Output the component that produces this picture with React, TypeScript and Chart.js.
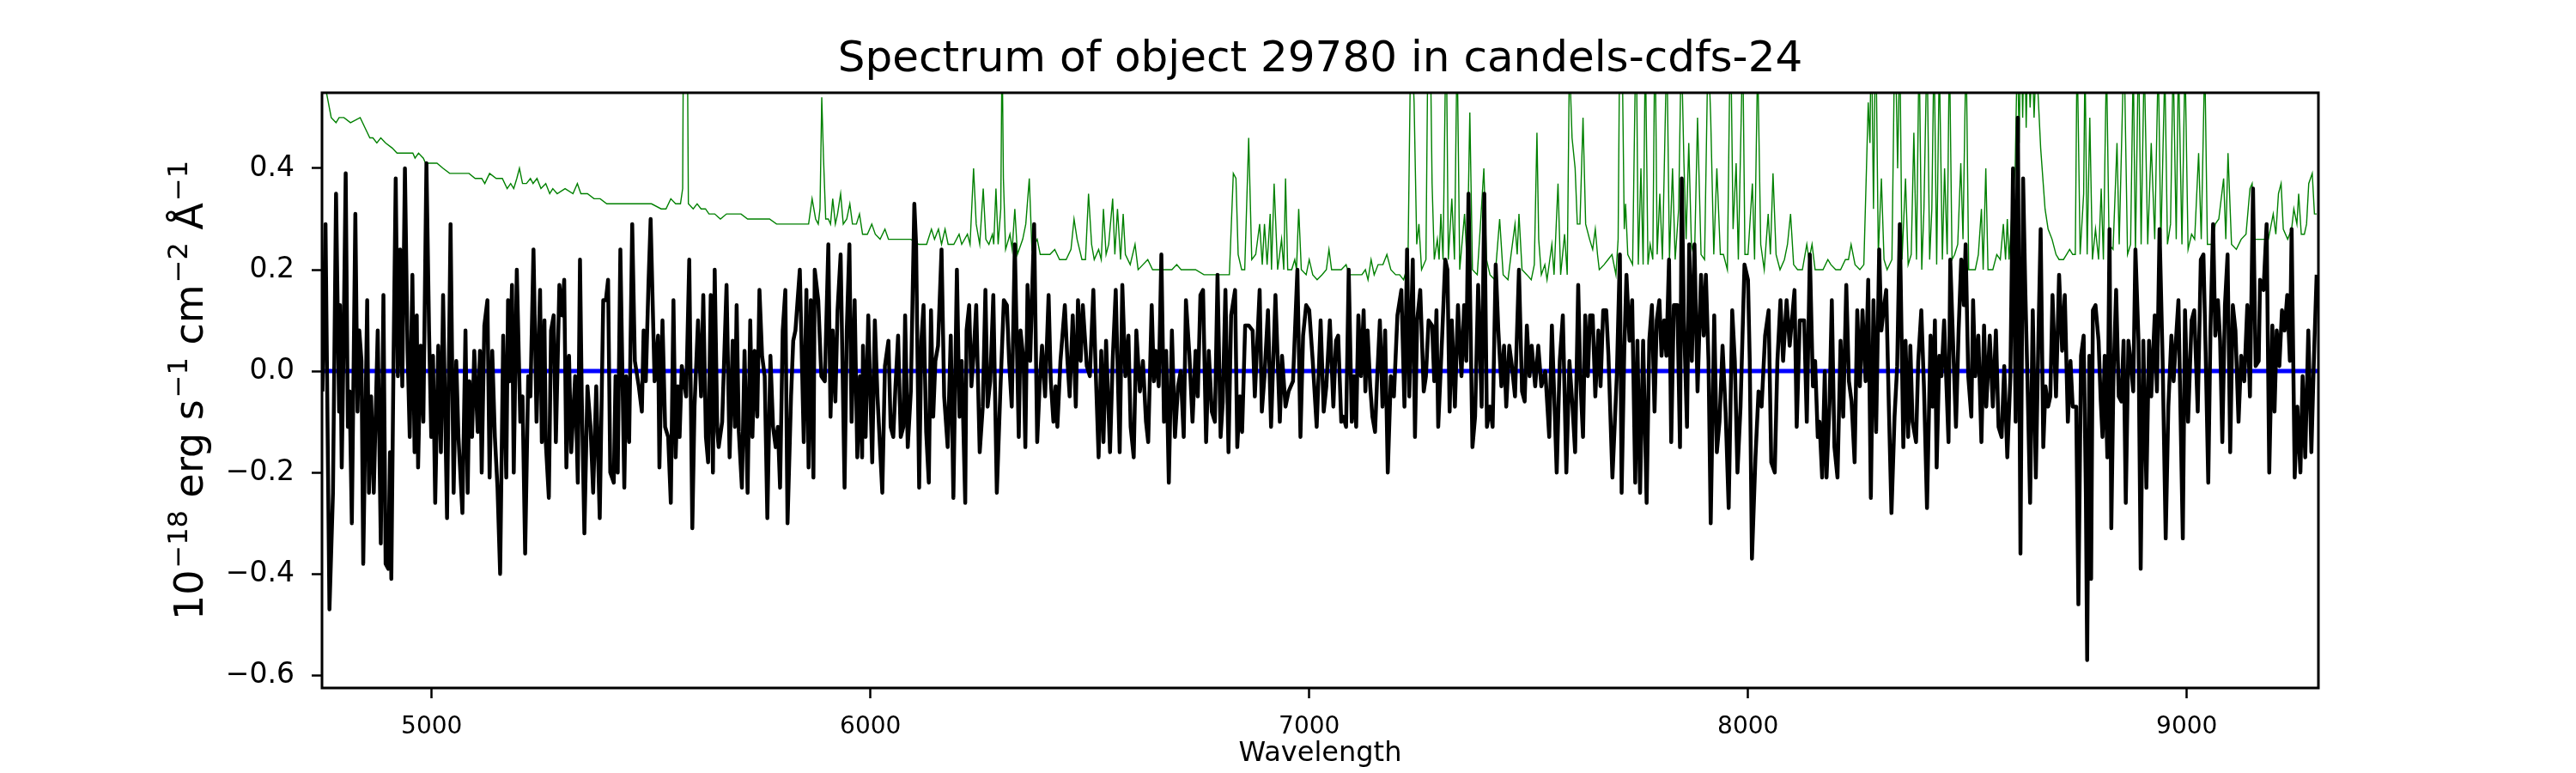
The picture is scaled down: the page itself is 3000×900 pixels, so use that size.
import { useEffect, useRef } from 'react';
import { Chart, registerables } from 'chart.js';

Chart.register(...registerables);

// observed flux (1e-18 erg/s/cm2/A), [wavelength, flux]
const objectFlux: [number, number][] = [
  [4751,-0.04],[4758,0.29],[4767,-0.47],[4775,-0.24],[4782,0.35],[4789,-0.08],[4791,0.13],[4795,-0.19],[4799,0.04],[4804,0.39],
  [4809,-0.11],[4813,-0.04],[4818,-0.30],[4826,0.31],[4831,-0.08],[4835,0.08],[4840,0.02],[4844,-0.38],[4853,0.14],[4857,-0.24],
  [4862,-0.05],[4868,-0.24],[4877,0.08],[4884,-0.34],[4890,0.15],[4895,-0.38],[4901,-0.39],[4905,-0.16],[4908,-0.41],[4913,0.02],
  [4918,0.38],[4923,-0.01],[4928,0.24],[4933,-0.03],[4939,0.40],[4945,0.04],[4950,-0.13],[4956,0.19],[4961,-0.16],[4966,0.11],
  [4969,-0.19],[4975,0.05],[4981,-0.10],[4988,0.41],[4994,0.08],[4999,-0.13],[5003,0.03],[5008,-0.26],[5015,0.05],[5021,-0.16],
  [5026,0.15],[5035,-0.29],[5043,0.29],[5050,-0.24],[5056,0.02],[5061,-0.13],[5070,-0.28],[5077,0.08],[5082,-0.24],[5086,-0.02],
  [5092,-0.13],[5097,0.04],[5105,-0.12],[5110,0.04],[5114,-0.20],[5120,0.09],[5127,0.14],[5132,-0.21],[5138,0.04],[5144,-0.13],
  [5150,-0.23],[5156,-0.40],[5163,0.07],[5170,-0.21],[5174,0.14],[5178,-0.02],[5183,0.17],[5187,-0.20],[5194,0.20],[5202,-0.10],
  [5207,-0.05],[5213,-0.36],[5220,-0.01],[5225,-0.05],[5232,0.24],[5239,-0.10],[5247,0.16],[5251,-0.14],[5257,0.10],[5260,-0.14],
  [5267,-0.25],[5272,0.08],[5278,0.11],[5283,-0.14],[5291,0.17],[5297,0.11],[5302,0.18],[5307,-0.19],[5313,0.03],[5318,-0.16],
  [5327,-0.01],[5333,-0.22],[5338,0.22],[5342,-0.05],[5348,-0.32],[5355,-0.03],[5362,-0.11],[5368,-0.24],[5375,-0.03],[5383,-0.29],
  [5391,0.14],[5397,0.14],[5402,0.18],[5407,-0.20],[5415,-0.22],[5419,-0.01],[5424,-0.20],[5430,0.24],[5439,-0.23],[5443,-0.01],
  [5450,-0.14],[5457,0.29],[5463,0.02],[5472,-0.03],[5479,-0.08],[5483,0.08],[5488,-0.02],[5494,0.17],[5499,0.30],[5508,-0.02],
  [5516,0.07],[5519,-0.19],[5526,0.10],[5532,-0.11],[5539,-0.13],[5545,-0.26],[5551,0.14],[5556,-0.17],[5561,-0.03],[5565,-0.13],
  [5570,0.01],[5580,-0.05],[5587,0.22],[5594,-0.31],[5599,-0.07],[5607,0.10],[5614,-0.05],[5619,0.15],[5625,-0.13],[5630,-0.18],
  [5636,0.15],[5641,-0.20],[5645,0.20],[5651,-0.12],[5654,-0.15],[5662,-0.10],[5672,0.17],[5679,-0.17],[5686,0.06],[5691,-0.11],
  [5695,0.13],[5700,-0.12],[5707,-0.23],[5713,0.04],[5720,-0.24],[5726,0.10],[5731,-0.13],[5736,0.04],[5742,-0.09],[5747,0.16],
  [5753,0.03],[5759,-0.01],[5765,-0.29],[5772,0.03],[5778,-0.11],[5784,-0.15],[5789,-0.11],[5794,-0.23],[5800,0.08],[5806,0.16],
  [5811,-0.30],[5819,-0.05],[5824,0.06],[5829,0.08],[5839,0.20],[5848,-0.14],[5854,0.16],[5859,-0.19],[5864,0.14],[5870,-0.21],
  [5873,0.20],[5881,0.14],[5888,-0.01],[5896,-0.02],[5904,0.25],[5909,-0.09],[5914,0.08],[5920,-0.06],[5925,0.12],[5932,0.23],
  [5941,-0.23],[5946,0.08],[5952,0.25],[5957,-0.10],[5964,0.14],[5970,-0.17],[5976,-0.01],[5981,-0.17],[5983,0.05],[5989,-0.13],
  [5995,0.11],[6004,-0.18],[6010,0.10],[6016,-0.05],[6027,-0.24],[6033,0.01],[6041,0.06],[6046,-0.11],[6052,-0.13],[6057,-0.03],
  [6063,0.07],[6069,-0.13],[6075,-0.11],[6079,0.11],[6085,-0.15],[6092,-0.04],[6100,0.33],[6104,0.25],[6111,-0.23],[6116,0.06],
  [6121,0.13],[6127,-0.12],[6133,-0.22],[6138,0.12],[6143,-0.09],[6148,0.02],[6154,0.05],[6162,0.24],[6168,-0.05],[6176,-0.15],
  [6183,0.07],[6189,-0.25],[6197,0.20],[6203,-0.09],[6208,0.02],[6216,-0.26],[6219,0.08],[6225,0.13],[6230,-0.03],[6235,0.03],
  [6241,0.13],[6249,-0.16],[6256,-0.07],[6262,0.16],[6267,-0.07],[6273,-0.02],[6280,0.15],[6288,-0.24],[6296,-0.04],[6304,0.14],
  [6311,0.13],[6316,0.02],[6322,-0.07],[6329,0.25],[6338,-0.13],[6342,0.08],[6349,0.02],[6353,-0.15],[6358,0.17],[6364,0.02],
  [6373,0.29],[6380,-0.14],[6386,-0.02],[6391,0.05],[6398,-0.05],[6406,0.15],[6411,-0.02],[6417,-0.10],[6422,-0.03],[6426,-0.11],
  [6433,0.02],[6443,0.13],[6449,0.02],[6454,-0.05],[6461,0.11],[6468,-0.07],[6473,0.14],[6479,0.02],[6484,0.13],[6493,0.01],
  [6500,-0.01],[6508,0.16],[6513,0.01],[6520,-0.17],[6526,0.04],[6531,-0.14],[6537,0.06],[6546,-0.16],[6552,0.02],[6559,0.16],
  [6568,-0.16],[6574,0.17],[6581,-0.01],[6588,0.07],[6593,-0.11],[6600,-0.17],[6606,0.08],[6614,-0.04],[6621,0.02],[6628,-0.10],
  [6633,-0.14],[6641,0.13],[6646,-0.02],[6650,0.04],[6657,-0.03],[6663,0.23],[6669,-0.10],[6674,0.04],[6680,-0.22],[6687,0.08],
  [6694,-0.13],[6701,-0.03],[6707,0.00],[6714,-0.13],[6719,0.14],[6727,0.03],[6734,-0.10],[6741,0.04],[6746,-0.05],[6752,0.15],
  [6758,0.16],[6765,-0.14],[6771,0.04],[6778,-0.08],[6785,-0.10],[6791,0.19],[6798,-0.13],[6803,-0.06],[6809,0.16],[6816,-0.16],
  [6822,0.11],[6831,0.16],[6836,-0.15],[6842,-0.05],[6847,-0.12],[6854,0.09],[6862,0.09],[6871,0.08],[6876,-0.05],[6887,0.16],
  [6892,-0.08],[6898,-0.01],[6906,0.12],[6913,-0.11],[6923,0.15],[6933,-0.10],[6938,0.03],[6946,-0.07],[6953,-0.04],[6963,-0.02],
  [6973,0.20],[6980,-0.13],[6986,0.07],[6993,0.13],[7000,0.12],[7008,0.02],[7017,-0.11],[7026,0.10],[7033,-0.08],[7039,-0.03],
  [7047,0.10],[7055,-0.07],[7061,0.06],[7066,0.07],[7073,-0.10],[7078,-0.09],[7084,-0.11],[7090,0.20],[7097,-0.10],[7102,-0.01],
  [7107,-0.11],[7112,0.11],[7118,-0.01],[7124,0.12],[7128,-0.04],[7133,0.08],[7139,-0.03],[7144,-0.09],[7150,-0.12],[7155,-0.01],
  [7161,0.10],[7167,-0.07],[7173,0.08],[7179,-0.20],[7186,-0.01],[7193,-0.05],[7201,0.11],[7210,0.16],[7217,-0.07],[7223,0.24],
  [7228,-0.05],[7236,0.22],[7241,-0.13],[7246,0.10],[7253,0.16],[7261,-0.04],[7266,-0.01],[7272,0.10],[7280,0.09],[7285,-0.02],
  [7290,0.12],[7294,-0.11],[7303,0.07],[7310,0.22],[7315,0.20],[7320,-0.08],[7325,0.10],[7332,-0.07],[7339,0.13],[7347,-0.01],
  [7353,0.13],[7358,0.02],[7363,0.35],[7372,-0.15],[7378,-0.09],[7385,0.17],[7393,-0.07],[7399,0.35],[7405,-0.11],[7412,-0.07],
  [7418,-0.11],[7425,0.21],[7431,0.08],[7438,-0.03],[7444,0.05],[7449,-0.07],[7456,0.05],[7462,0.01],[7469,-0.05],[7478,0.20],
  [7485,-0.04],[7491,-0.06],[7496,0.09],[7502,-0.01],[7507,0.05],[7515,-0.03],[7522,0.05],[7529,-0.03],[7538,0.00],[7547,-0.13],
  [7553,0.09],[7558,-0.04],[7564,-0.20],[7571,0.02],[7578,0.11],[7586,-0.20],[7593,0.02],[7600,-0.07],[7606,-0.16],[7613,0.17],
  [7618,-0.02],[7624,-0.13],[7629,0.11],[7635,-0.01],[7640,0.11],[7646,0.11],[7652,-0.05],[7659,0.08],[7664,-0.03],[7670,0.12],
  [7677,0.12],[7682,0.03],[7691,-0.21],[7701,-0.01],[7708,0.23],[7712,-0.24],[7718,0.04],[7723,0.19],[7730,0.06],[7736,0.14],
  [7743,-0.22],[7748,0.06],[7754,-0.24],[7761,0.06],[7769,-0.26],[7775,0.06],[7781,0.13],[7787,-0.08],[7792,0.10],[7798,0.14],
  [7803,0.03],[7809,0.10],[7814,0.03],[7820,0.22],[7825,-0.14],[7831,0.13],[7839,0.13],[7845,-0.15],[7849,0.38],[7854,0.10],
  [7861,-0.11],[7866,0.25],[7872,0.02],[7878,0.25],[7885,-0.04],[7893,0.19],[7899,0.07],[7904,0.19],[7910,0.02],[7915,-0.30],
  [7923,0.11],[7929,-0.16],[7935,-0.10],[7942,0.05],[7949,-0.08],[7956,-0.27],[7964,0.12],[7970,0.02],[7976,-0.20],[7983,-0.07],
  [7992,0.21],[8000,0.18],[8004,0.02],[8009,-0.37],[8017,-0.17],[8024,-0.04],[8031,-0.07],[8039,0.07],[8047,0.12],[8053,-0.18],
  [8061,-0.20],[8067,0.02],[8074,0.14],[8080,0.02],[8088,0.14],[8095,0.05],[8106,0.16],[8111,-0.11],[8118,0.10],[8128,0.10],
  [8134,-0.10],[8141,0.23],[8148,-0.03],[8153,0.02],[8159,-0.13],[8163,-0.10],[8169,-0.21],[8175,0.00],[8179,-0.21],[8186,-0.06],
  [8191,0.14],[8197,-0.15],[8204,-0.21],[8211,0.06],[8217,-0.09],[8224,0.17],[8230,-0.02],[8236,-0.06],[8243,-0.18],[8249,0.12],
  [8255,-0.03],[8261,0.12],[8268,-0.02],[8274,0.18],[8280,-0.25],[8286,0.14],[8292,-0.12],[8299,0.24],[8304,0.08],[8309,0.12],
  [8315,0.16],[8321,-0.07],[8327,-0.28],[8334,-0.09],[8340,0.01],[8346,0.29],[8354,-0.15],[8359,0.06],[8365,-0.13],[8370,0.05],
  [8375,-0.10],[8383,-0.14],[8388,0.02],[8395,0.12],[8401,-0.03],[8408,-0.27],[8416,0.07],[8421,-0.07],[8426,0.10],[8430,-0.19],
  [8436,0.03],[8441,-0.01],[8447,0.10],[8457,-0.14],[8461,0.22],[8468,0.04],[8474,-0.11],[8480,0.08],[8486,0.22],[8492,0.13],
  [8496,0.25],[8502,-0.01],[8509,-0.09],[8513,0.14],[8518,-0.01],[8525,0.07],[8532,-0.14],[8538,0.09],[8543,-0.07],[8551,0.07],
  [8558,-0.07],[8565,0.08],[8571,-0.11],[8578,-0.13],[8584,0.01],[8591,-0.17],[8598,-0.01],[8604,0.40],[8610,-0.10],[8615,0.50],
  [8621,-0.36],[8627,0.38],[8632,0.16],[8637,-0.02],[8643,-0.26],[8649,0.12],[8656,-0.21],[8662,0.07],[8667,0.28],[8673,-0.15],
  [8678,-0.03],[8684,-0.07],[8689,-0.05],[8694,0.15],[8702,-0.05],[8709,0.19],[8716,0.04],[8722,0.15],[8729,-0.10],[8735,0.02],
  [8740,-0.07],[8748,-0.07],[8753,-0.46],[8759,0.03],[8765,0.07],[8770,-0.24],[8773,-0.57],[8778,0.03],[8782,-0.41],[8786,0.12],
  [8792,0.13],[8799,0.06],[8804,-0.06],[8808,-0.13],[8813,0.03],[8819,-0.17],[8824,0.28],[8828,-0.31],[8833,-0.01],[8839,0.16],
  [8845,-0.05],[8851,-0.06],[8856,0.06],[8861,-0.26],[8867,0.06],[8872,0.02],[8878,-0.04],[8883,0.24],[8890,0.06],[8895,-0.39],
  [8901,0.06],[8908,-0.23],[8914,0.06],[8919,-0.05],[8927,0.11],[8932,-0.04],[8938,0.28],[8945,0.02],[8952,-0.33],[8958,-0.07],
  [8965,0.07],[8970,-0.02],[8976,0.07],[8981,0.14],[8991,-0.33],[8996,0.12],[9003,-0.10],[9011,0.10],[9017,0.12],[9025,-0.08],
  [9032,0.22],[9038,0.23],[9043,0.04],[9049,-0.22],[9054,0.08],[9060,0.29],[9065,0.07],[9071,0.14],[9076,0.06],[9081,-0.14],
  [9087,0.13],[9093,0.23],[9099,-0.16],[9105,0.13],[9111,0.08],[9118,-0.10],[9124,0.03],[9131,-0.02],[9138,0.13],[9144,-0.05],
  [9151,0.36],[9157,0.01],[9164,0.02],[9167,0.18],[9175,0.16],[9182,0.29],[9188,-0.20],[9195,0.09],[9200,-0.08],[9205,0.08],
  [9211,0.01],[9217,0.12],[9223,0.08],[9229,0.15],[9235,0.02],[9239,0.28],[9246,-0.21],[9252,-0.07],[9259,-0.20],[9264,-0.01],
  [9270,-0.17],[9277,0.08],[9284,-0.16],[9290,0.03],[9296,0.19],
];

// sky / noise spectrum, same units
const skyNoise: [number, number][] = [
  [4749,0.62],[4760,0.55],[4771,0.50],[4782,0.49],[4789,0.50],[4800,0.50],[4815,0.49],[4837,0.50],[4848,0.48],[4859,0.46],
  [4866,0.46],[4875,0.45],[4884,0.46],[4895,0.45],[4910,0.44],[4921,0.43],[4932,0.43],[4946,0.43],[4957,0.43],[4962,0.42],
  [4970,0.43],[4981,0.42],[4986,0.41],[4997,0.41],[5012,0.41],[5026,0.40],[5041,0.39],[5056,0.39],[5070,0.39],[5085,0.39],
  [5099,0.38],[5114,0.38],[5121,0.37],[5132,0.39],[5147,0.38],[5161,0.38],[5172,0.36],[5180,0.37],[5187,0.36],[5194,0.38],
  [5200,0.40],[5207,0.37],[5216,0.37],[5225,0.38],[5231,0.37],[5240,0.38],[5249,0.36],[5260,0.37],[5269,0.35],[5276,0.36],
  [5286,0.35],[5304,0.36],[5322,0.35],[5332,0.37],[5340,0.35],[5355,0.35],[5370,0.34],[5384,0.34],[5399,0.33],[5410,0.33],
  [5424,0.33],[5439,0.33],[5453,0.33],[5464,0.33],[5479,0.33],[5501,0.33],[5523,0.32],[5534,0.32],[5545,0.34],[5556,0.33],
  [5567,0.33],[5572,0.36],[5575,0.90],[5581,0.90],[5585,0.33],[5596,0.32],[5605,0.33],[5614,0.32],[5624,0.32],[5632,0.31],
  [5645,0.31],[5658,0.30],[5672,0.31],[5691,0.31],[5705,0.31],[5720,0.30],[5735,0.30],[5756,0.30],[5770,0.30],[5786,0.29],
  [5808,0.29],[5829,0.29],[5859,0.29],[5867,0.34],[5875,0.30],[5881,0.29],[5885,0.32],[5889,0.54],[5893,0.42],[5898,0.30],
  [5904,0.30],[5909,0.29],[5914,0.34],[5920,0.29],[5925,0.31],[5932,0.35],[5938,0.29],[5946,0.30],[5953,0.33],[5959,0.29],
  [5968,0.29],[5975,0.31],[5982,0.27],[5993,0.27],[6003,0.29],[6011,0.27],[6022,0.26],[6033,0.28],[6041,0.26],[6059,0.26],
  [6077,0.26],[6092,0.26],[6110,0.25],[6128,0.25],[6139,0.28],[6146,0.26],[6155,0.28],[6162,0.25],[6170,0.28],[6177,0.25],
  [6190,0.25],[6202,0.27],[6208,0.25],[6221,0.27],[6227,0.25],[6235,0.40],[6241,0.29],[6249,0.25],[6257,0.36],[6263,0.26],
  [6270,0.25],[6278,0.27],[6281,0.25],[6286,0.36],[6291,0.25],[6297,0.32],[6300,0.65],[6303,0.38],[6308,0.24],[6318,0.27],
  [6323,0.24],[6329,0.32],[6335,0.23],[6347,0.26],[6354,0.29],[6362,0.38],[6368,0.24],[6380,0.26],[6387,0.23],[6402,0.23],
  [6409,0.23],[6420,0.24],[6431,0.22],[6446,0.22],[6457,0.24],[6464,0.30],[6471,0.26],[6482,0.22],[6490,0.22],[6497,0.35],
  [6504,0.25],[6510,0.22],[6520,0.24],[6526,0.22],[6531,0.32],[6537,0.23],[6543,0.25],[6552,0.34],[6557,0.23],[6563,0.32],
  [6570,0.22],[6576,0.31],[6581,0.23],[6592,0.21],[6603,0.25],[6610,0.20],[6621,0.21],[6632,0.22],[6643,0.20],[6657,0.20],
  [6672,0.20],[6687,0.20],[6698,0.21],[6708,0.20],[6719,0.20],[6730,0.20],[6741,0.20],[6760,0.19],[6782,0.19],[6803,0.19],
  [6818,0.19],[6827,0.39],[6833,0.38],[6838,0.23],[6846,0.20],[6853,0.20],[6862,0.46],[6869,0.22],[6878,0.23],[6887,0.29],
  [6893,0.21],[6898,0.29],[6904,0.21],[6911,0.31],[6914,0.20],[6920,0.37],[6928,0.20],[6937,0.26],[6942,0.20],[6946,0.38],
  [6951,0.20],[6960,0.20],[6967,0.22],[6971,0.20],[6976,0.32],[6982,0.20],[6993,0.19],[7000,0.22],[7008,0.19],[7018,0.18],
  [7029,0.19],[7039,0.20],[7045,0.24],[7051,0.20],[7062,0.20],[7073,0.20],[7084,0.21],[7091,0.19],[7106,0.19],[7120,0.19],
  [7128,0.20],[7134,0.18],[7141,0.22],[7148,0.19],[7157,0.21],[7168,0.21],[7177,0.23],[7186,0.20],[7197,0.19],[7206,0.19],
  [7215,0.18],[7225,0.21],[7232,0.70],[7239,0.53],[7245,0.25],[7250,0.29],[7256,0.20],[7266,0.22],[7271,0.70],[7276,0.65],
  [7280,0.37],[7285,0.22],[7292,0.26],[7296,0.22],[7300,0.31],[7305,0.22],[7312,0.70],[7317,0.22],[7325,0.34],[7331,0.22],
  [7337,0.65],[7343,0.20],[7354,0.31],[7360,0.21],[7366,0.51],[7372,0.20],[7383,0.19],[7391,0.30],[7398,0.40],[7404,0.22],
  [7412,0.19],[7423,0.18],[7434,0.30],[7442,0.19],[7453,0.18],[7460,0.23],[7469,0.29],[7474,0.23],[7478,0.31],[7485,0.20],
  [7496,0.19],[7506,0.18],[7513,0.21],[7519,0.47],[7523,0.26],[7529,0.19],[7537,0.21],[7542,0.18],[7553,0.25],[7558,0.19],
  [7567,0.37],[7573,0.19],[7582,0.27],[7588,0.19],[7593,0.62],[7599,0.46],[7606,0.40],[7611,0.29],[7617,0.29],[7624,0.50],
  [7630,0.29],[7639,0.26],[7646,0.24],[7652,0.28],[7657,0.23],[7661,0.20],[7672,0.21],[7681,0.22],[7690,0.23],[7699,0.19],
  [7704,0.26],[7708,0.70],[7713,0.65],[7718,0.28],[7721,0.33],[7726,0.23],[7737,0.21],[7745,0.70],[7750,0.21],[7756,0.40],
  [7761,0.21],[7766,0.65],[7772,0.21],[7777,0.25],[7783,0.22],[7788,0.70],[7793,0.23],[7799,0.35],[7805,0.22],[7815,0.65],
  [7821,0.22],[7828,0.40],[7834,0.22],[7842,0.32],[7848,0.65],[7854,0.41],[7859,0.26],[7865,0.45],[7871,0.25],[7878,0.22],
  [7885,0.50],[7893,0.23],[7901,0.22],[7909,0.65],[7915,0.50],[7922,0.23],[7929,0.40],[7937,0.23],[7944,0.23],[7953,0.20],
  [7960,0.70],[7966,0.28],[7973,0.41],[7978,0.22],[7988,0.65],[7993,0.23],[8000,0.23],[8010,0.37],[8015,0.22],[8022,0.62],
  [8029,0.25],[8037,0.20],[8046,0.31],[8051,0.23],[8057,0.39],[8064,0.23],[8073,0.20],[8083,0.22],[8090,0.25],[8097,0.31],
  [8104,0.21],[8113,0.20],[8124,0.20],[8134,0.25],[8139,0.22],[8146,0.25],[8153,0.20],[8160,0.20],[8171,0.20],[8182,0.22],
  [8189,0.21],[8200,0.20],[8211,0.20],[8222,0.22],[8229,0.22],[8235,0.25],[8244,0.21],[8255,0.20],[8264,0.21],[8270,0.40],
  [8274,0.53],[8278,0.45],[8281,0.70],[8286,0.32],[8291,0.70],[8297,0.23],[8304,0.38],[8310,0.22],[8317,0.20],[8328,0.22],
  [8335,0.70],[8341,0.40],[8346,0.65],[8351,0.22],[8359,0.38],[8365,0.21],[8372,0.23],[8378,0.47],[8384,0.22],[8390,0.65],
  [8396,0.20],[8401,0.32],[8408,0.65],[8414,0.22],[8419,0.32],[8424,0.65],[8430,0.21],[8436,0.62],[8443,0.22],[8448,0.40],
  [8454,0.23],[8459,0.65],[8465,0.22],[8471,0.23],[8478,0.25],[8485,0.41],[8490,0.26],[8497,0.65],[8503,0.20],[8512,0.20],
  [8518,0.20],[8525,0.23],[8532,0.32],[8536,0.20],[8542,0.40],[8547,0.20],[8558,0.20],[8567,0.23],[8575,0.22],[8582,0.29],
  [8587,0.22],[8591,0.30],[8595,0.22],[8602,0.32],[8609,0.40],[8614,0.65],[8618,0.45],[8622,0.70],[8626,0.50],[8630,0.70],
  [8634,0.48],[8638,0.66],[8643,0.52],[8648,0.62],[8652,0.50],[8657,0.62],[8667,0.44],[8677,0.32],[8684,0.28],[8693,0.26],
  [8702,0.23],[8709,0.22],[8719,0.22],[8726,0.23],[8733,0.24],[8740,0.23],[8746,0.23],[8750,0.65],[8757,0.23],[8765,0.35],
  [8768,0.62],[8773,0.23],[8779,0.50],[8785,0.22],[8792,0.28],[8799,0.22],[8805,0.36],[8810,0.22],[8817,0.62],[8823,0.25],
  [8832,0.24],[8841,0.45],[8846,0.25],[8857,0.65],[8865,0.23],[8872,0.25],[8878,0.62],[8883,0.23],[8890,0.65],[8896,0.25],
  [8903,0.62],[8911,0.25],[8919,0.45],[8927,0.26],[8935,0.62],[8941,0.25],[8950,0.60],[8956,0.25],[8963,0.29],[8969,0.62],
  [8976,0.26],[8981,0.62],[8989,0.25],[8996,0.62],[9003,0.24],[9011,0.27],[9018,0.26],[9027,0.43],[9033,0.26],[9041,0.62],
  [9047,0.25],[9058,0.25],[9065,0.29],[9073,0.30],[9084,0.38],[9089,0.26],[9094,0.43],[9102,0.25],[9113,0.24],[9124,0.26],
  [9135,0.27],[9144,0.36],[9149,0.37],[9154,0.26],[9164,0.26],[9175,0.26],[9186,0.26],[9197,0.31],[9203,0.27],[9209,0.35],
  [9215,0.37],[9220,0.28],[9230,0.26],[9239,0.28],[9244,0.32],[9251,0.29],[9255,0.35],[9261,0.27],[9268,0.27],[9273,0.29],
  [9278,0.37],[9286,0.39],[9291,0.31],[9296,0.31],
];

// fitted model (flat zero)
const modelFlux: [number, number][] = [[4750, 0], [9300, 0]];

const xRange = [4750, 9300];
const yRange = [-0.625, 0.549];
const xTicks = [5000, 6000, 7000, 8000, 9000];
const yTicks = [-0.6, -0.4, -0.2, 0.0, 0.2, 0.4];

const title = 'Spectrum of object 29780 in candels-cdfs-24';
const xLabel = 'Wavelength';
// [text, is superscript]
const yLabel: [string, boolean][] = [
  ['10', false], ['\u221218', true], [' erg s', false], ['\u22121', true],
  [' cm', false], ['\u22122', true], [' \u00c5', false], ['\u22121', true],
];

const FONT = '"DejaVu Sans", sans-serif';

const toPoints = (pts: [number, number][]) => pts.map(([x, y]) => ({ x, y }));

const fmtY = (v: number) => {
  const s = Math.abs(v) < 1e-9 ? '0.0' : v.toFixed(1);
  return s.replace('-', '\u2212');
};

const mplText = {
  id: 'mplText',
  afterDatasetsDraw(chart: any) {
    const { ctx, chartArea: a } = chart;
    ctx.save();
    ctx.strokeStyle = '#000';
    ctx.lineWidth = 3;
    ctx.strokeRect(a.left, a.top, a.right - a.left, a.bottom - a.top);
    ctx.restore();
  },
  afterDraw(chart: any) {
    const { ctx, chartArea: a } = chart;
    const cx = (a.left + a.right) / 2;
    ctx.save();
    ctx.fillStyle = '#000';
    ctx.textBaseline = 'alphabetic';
    ctx.textAlign = 'center';
    ctx.font = `50px ${FONT}`;
    ctx.fillText(title, cx, 83);
    ctx.font = `32px ${FONT}`;
    ctx.fillText(xLabel, cx, 886);

    // y label, mathtext-like superscripts
    const base = 46;
    const sup = 32;
    const rise = 18;
    ctx.textAlign = 'left';
    const widths = yLabel.map(([t, s]) => {
      ctx.font = `${s ? sup : base}px ${FONT}`;
      return ctx.measureText(t).width + (s ? 2 : 0);
    });
    const total = widths.reduce((p, w) => p + w, 0);
    ctx.translate(236, (a.top + a.bottom) / 2);
    ctx.rotate(-Math.PI / 2);
    let x = -total / 2;
    yLabel.forEach(([t, s], i) => {
      ctx.font = `${s ? sup : base}px ${FONT}`;
      ctx.fillText(t, x + (s ? 2 : 0), s ? -rise : 0);
      x += widths[i];
    });
    ctx.restore();
  },
};

const App = () => {
  const ref = useRef<HTMLCanvasElement>(null);
  const chart = useRef<Chart>();

  useEffect(() => {
    if (!ref.current) return;
    chart.current = new Chart(ref.current, {
      type: 'line',
      data: {
        datasets: [
          {
            data: toPoints(objectFlux),
            borderColor: '#000000',
            borderWidth: 4.5,
            pointRadius: 0,
            tension: 0,
            borderJoinStyle: 'round',
            order: 0,
            clip: 0,
          },
          {
            data: toPoints(modelFlux),
            borderColor: '#0000ff',
            borderWidth: 5,
            pointRadius: 0,
            order: 1,
            clip: 0,
          },
          {
            data: toPoints(skyNoise),
            borderColor: '#008000',
            borderWidth: 1.4,
            pointRadius: 0,
            tension: 0,
            order: 2,
            clip: 0,
          },
        ],
      },
      options: {
        animation: false,
        responsive: false,
        devicePixelRatio: 1,
        events: [],
        layout: { padding: { left: 0, right: 300, top: 108, bottom: 0 } },
        plugins: {
          legend: { display: false },
          tooltip: { enabled: false },
          title: { display: false },
        },
        scales: {
          x: {
            type: 'linear',
            min: xRange[0],
            max: xRange[1],
            afterFit: (s: any) => { s.height = 99; },
            afterBuildTicks: (s: any) => { s.ticks = xTicks.map((v) => ({ value: v })); },
            grid: { display: true, drawOnChartArea: false, drawTicks: true, tickLength: 12, tickWidth: 2.5, tickColor: '#000' },
            border: { display: false },
            ticks: {
              color: '#000',
              font: { family: 'DejaVu Sans', size: 28 },
              padding: 17,
              maxRotation: 0,
              autoSkip: false,
              callback: (v: any) => String(v),
            },
          },
          y: {
            type: 'linear',
            min: yRange[0],
            max: yRange[1],
            afterFit: (s: any) => { s.width = 375; },
            afterBuildTicks: (s: any) => { s.ticks = yTicks.map((v) => ({ value: v })); },
            grid: { display: true, drawOnChartArea: false, drawTicks: true, tickLength: 12, tickWidth: 2.5, tickColor: '#000' },
            border: { display: false },
            ticks: {
              color: '#000',
              font: { family: 'DejaVu Sans', size: 33 },
              padding: 20,
              autoSkip: false,
              callback: (v: any) => fmtY(Number(v)),
            },
          },
        },
      },
      plugins: [mplText],
    });

    return () => {
      if (chart.current) chart.current.destroy();
    };
  }, []);

  return (
    <div style={{ position: 'absolute', left: 0, top: 0, width: 3000, height: 900, background: '#fff' }}>
      <canvas ref={ref} width={3000} height={900} style={{ display: 'block', width: 3000, height: 900 }} />
    </div>
  );
};

export default App;
